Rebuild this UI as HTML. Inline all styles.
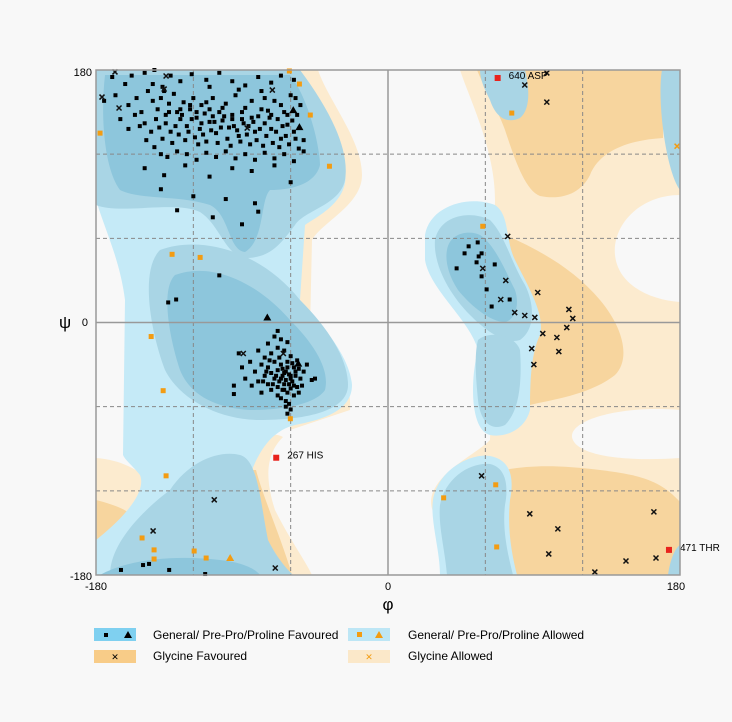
<!DOCTYPE html>
<html><head><meta charset="utf-8"><style>
body{margin:0;background:#f8f8f8;font-family:"Liberation Sans",sans-serif}
svg{display:block}
text{font-family:"Liberation Sans",sans-serif}
</style></head><body>
<svg id="chart" width="732" height="722" viewBox="0 0 732 722">
<rect width="732" height="722" fill="#f8f8f8"/>
<clipPath id="pc"><rect x="96" y="70" width="584" height="505"/></clipPath>
<g clip-path="url(#pc)">
<!-- glycine allowed -->
<g fill="#fcebcf">
<path d="M460,70 L680,70 L680,195 C640,195 612,225 615,255 C618,285 650,300 680,302 L680,575 L472,575 C460,545 425,520 432,495 C440,470 475,455 490,440 L495,200 C495,150 470,100 460,70 Z"/>
<path d="M285,70 L318,70 C328,100 362,140 362,175 C362,205 322,222 312,240 L310,330 C335,345 352,380 350,410 L290,430 Z"/>
<path d="M96,458 C125,460 150,475 152,490 L152,575 L96,575 Z"/>
<path d="M240,445 C260,435 275,432 283,437 C270,450 262,470 275,510 C290,540 305,560 312,575 L240,575 Z"/>
</g>
<path d="M680,410 C620,405 570,420 572,437 C575,455 620,462 680,458 Z" fill="#f8f8f8"/>
<!-- glycine favoured -->
<g fill="#f7d59e">
<path d="M477,70 L663,70 L663,138 C630,140 600,150 590,175 C580,195 560,200 540,196 C525,190 515,160 505,130 C498,110 485,90 477,70 Z"/>
<path d="M505,235 C540,250 575,270 600,300 C625,330 630,360 615,375 C590,395 550,400 530,405 L510,300 Z"/>
<path d="M505,470 C530,465 560,465 600,470 C640,475 660,480 680,502 L680,575 L515,575 C505,540 500,500 505,470 Z"/>
<path d="M96,500 C115,505 130,510 135,520 C130,535 110,545 96,555 Z"/>
<path d="M246,470 C243,500 250,540 262,575 L292,575 C282,540 264,500 256,470 Z"/>
</g>
<!-- general allowed -->
<g fill="#c5eaf7">
<path d="M96,70 L292,70 C300,100 335,135 345,170 C350,200 320,215 305,225 L300,300 C318,320 350,355 352,385 C352,412 320,420 295,425 C275,430 262,445 252,470 C247,500 252,545 258,575 L96,575 L96,540 C115,525 148,495 140,475 C132,465 125,460 123,455 L125,300 C120,260 105,230 96,200 Z"/>
<path d="M425,235 C430,205 470,195 495,205 C510,215 505,240 515,260 C530,290 545,315 540,335 C530,355 530,390 530,410 C525,430 505,438 490,435 C470,430 470,380 478,350 C470,320 430,290 425,260 Z"/>
<path d="M433,500 C438,470 470,453 490,456 C512,460 514,480 510,500 C507,530 512,555 517,575 L440,575 C440,550 430,520 433,500 Z"/>
</g>
<!-- general favoured -->
<g fill="#a9d5e5">
<path d="M96,70 L300,70 C330,110 350,150 345,180 C340,205 305,210 295,225 C280,245 270,258 245,258 C225,255 220,225 200,212 C175,200 120,215 96,205 Z"/>
<path d="M160,250 C200,235 260,250 300,300 C330,330 348,360 348,385 C348,413 300,420 260,420 C220,420 180,400 165,370 C150,330 140,270 160,250 Z"/>
<path d="M110,575 C110,540 150,505 170,490 C190,460 220,450 240,455 C258,460 260,500 268,540 C278,560 288,570 293,575 Z"/>
<path d="M435,240 C440,215 470,210 490,220 C505,235 510,260 525,285 C535,305 535,330 520,340 C505,345 485,330 470,315 C450,295 433,265 435,240 Z"/>
<path d="M478,340 C490,330 515,335 520,350 C522,380 520,410 505,425 C490,432 480,420 478,400 C476,380 474,355 478,340 Z"/>
<path d="M440,505 C445,478 470,462 490,464 C508,468 508,490 505,505 C502,530 508,555 513,575 L447,575 C445,550 438,525 440,505 Z"/>
<path d="M480,70 L525,70 C530,90 530,110 520,118 C505,125 495,115 490,100 C485,90 480,80 480,70 Z"/>
<path d="M662,70 L680,70 L680,190 C672,180 665,150 662,120 C660,100 660,80 662,70 Z"/>
<path d="M668,575 C670,560 675,548 680,545 L680,575 Z"/>
</g>
<g fill="#8dc6dc">
<path d="M105,75 L290,75 C310,100 320,150 320,165 C315,185 290,190 270,190 C260,200 265,240 245,252 C228,250 230,215 210,205 C180,195 140,200 120,190 C105,170 100,120 105,75 Z"/>
<path d="M175,275 C210,262 255,280 290,320 C315,345 330,370 325,390 C315,405 280,410 250,410 C215,408 190,395 180,370 C170,340 160,290 175,275 Z"/>
<path d="M100,575 C130,558 180,555 220,560 C240,562 255,568 260,575 Z"/>
<path d="M447,250 C450,232 470,230 480,235 C495,245 505,270 515,290 C520,305 515,320 505,322 C490,322 470,305 458,290 C448,275 445,260 447,250 Z"/>
</g>
</g>
<g id="grid"></g>
<g id="marks"></g>
<rect x="96" y="70" width="584" height="505" fill="none" stroke="#999" stroke-width="1.5"/>
<g font-size="11" fill="#000">
<text x="92" y="76" text-anchor="end">180</text>
<text x="88" y="326" text-anchor="end">0</text>
<text x="92" y="580" text-anchor="end">-180</text>
<text x="96" y="590" text-anchor="middle">-180</text>
<text x="388" y="590" text-anchor="middle">0</text>
<text x="676" y="590" text-anchor="middle">180</text>
</g>
<text x="65" y="328" font-size="17" text-anchor="middle" font-family="DejaVu Serif,serif">ψ</text>
<text x="388" y="610" font-size="17" text-anchor="middle" font-family="DejaVu Serif,serif">φ</text>
<g font-size="12">
<g>
<rect x="94" y="628" width="42" height="13" fill="#7fd0f0"/><rect x="104" y="633" width="4" height="4" fill="#000"/><path d="M124,638 L128,631 L132,638 Z" fill="#000"/>
<text x="153" y="639">General/ Pre-Pro/Proline Favoured</text></g>
<g>
<rect x="94" y="650" width="42" height="13" fill="#f8cc88"/><text x="115" y="660" font-size="9" text-anchor="middle">✕</text>
<text x="153" y="660">Glycine  Favoured</text></g>
<g>
<rect x="348" y="628" width="42" height="13" fill="#bde6f5"/><rect x="357" y="632" width="5" height="5" fill="#f39c12"/><path d="M375,638 L379,631 L383,638 Z" fill="#f39c12"/>
<text x="408" y="639">General/ Pre-Pro/Proline Allowed</text></g>
<g>
<rect x="348" y="650" width="42" height="13" fill="#fbe8c9"/><text x="369" y="660" font-size="9" fill="#f39c12" text-anchor="middle">✕</text>
<text x="408" y="660">Glycine Allowed</text></g>
</g>
</svg>
<script>
const gridPhi=[-120,-60,0,60,120];
const gridPsi=[120,60,0,-60,-120];
const betaPts=[-170,175,-162,170,-158,176,-150,178,-144,180,-139,168,-134,176,-128,172,-121,177,-112,173,-104,178,-96,172,-88,169,-80,175,-72,171,-66,176,-58,173,
-175,158,-168,162,-160,155,-155,160,-152,150,-148,165,-145,158,-142,152,-140,160,-137,148,-135,156,-132,163,-130,150,-128,145,-126,157,-124,140,-122,152,-120,160,-118,146,-116,138,-115,155,-113,149,-110,143,-108,160,-106,135,-104,150,-102,144,-100,156,-98,139,-96,148,-94,162,-92,133,-90,145,-88,153,-86,140,-84,158,-82,136,-80,147,-78,165,-76,142,-74,151,-72,138,-70,158,-68,145,-66,131,-64,150,-62,141,-60,162,-58,136,-56,148,-54,155,-52,130,
-150,142,-146,136,-143,145,-141,139,-139,131,-137,142,-134,136,-133,128,-131,140,-129,134,-127,148,-125,130,-123,136,-121,145,-119,132,-117,127,-115,142,-114,134,-112,129,-110,152,-109,137,-107,143,-105,128,-103,139,-101,147,-99,131,-97,126,-95,140,-93,137,-91,129,-89,142,-87,134,-85,127,-83,143,-81,130,-79,138,-77,126,-75,133,-73,146,-71,128,-69,136,-67,125,-65,140,-63,133,-61,127,-59,144,-57,131,-55,124,
-165,145,-160,138,-156,148,-153,140,-149,130,-144,125,-140,120,-136,118,-130,122,-124,120,-118,116,-112,121,-106,118,-100,122,-94,117,-88,120,-82,116,-76,121,-70,117,-64,120,-58,115,-52,122,
-150,110,-138,105,-125,112,-110,104,-96,110,-84,108,-70,112,-60,100,-140,95,-120,90,-100,88,-82,85,-130,80,-108,75,-90,70,-80,79,
-135,150,-128,152,-122,155,-118,150,-112,157,-108,147,-102,153,-96,145,-90,150,-84,146,-78,152,-72,148,-66,155,-62,148,-57,160,-145,170,-138,165,-110,168,-92,166,-76,160];
const alphaPts=[-80,-20,-76,-25,-72,-22,-68,-18,-64,-20,-60,-24,-78,-30,-74,-32,-70,-28,-66,-30,-62,-28,-58,-32,-56,-27,-82,-35,-76,-38,-72,-36,-68,-34,-64,-36,-60,-38,-57,-35,-54,-40,-80,-42,-74,-44,-70,-40,-67,-42,-63,-41,-61,-44,-59,-42,-56,-46,-72,-48,-68,-46,-65,-48,-62,-50,-60,-47,-58,-52,-66,-54,-63,-56,-61,-58,-60,-62,-62,-65,-85,-28,-88,-40,-84,-45,-78,-50,-90,-32,-70,-10,-66,-12,-62,-14,-74,-15,-55,-33,-53,-45,-57,-38,-65,-38,-69,-38,-71,-44,-64,-44,-66,-40,-62,-32,-67,-25,-59,-29,-73,-27,-75,-35,-77,-42,-55,-50,-52,-35,-50,-30,-45,-40,-95,-45,-92,-22,-60,-40,-63,-35,-65,-33,-61,-37,-58,-45,-64,-48,-68,-52,-63,-60,-68,-6,-95,-51,-47,-41];
const otherPts=[49.7,54.3,55.3,57.1,47.2,49.3,57.7,49.3,55.9,47.1,54.6,42.9,65.8,41.4,42.3,38.6,57.7,32.9,60.8,23.6,75,16.4,63.9,11.4,
-164.6,-176.4,-151,-172.9,-147.3,-172.1,-134.9,-176.4,-112.7,-179.3,-135.5,14.3,-130.6,16.4,-104,33.6];
const glyPts=[-168.3,178.6,-176.3,160.7,-165.8,152.9,-136.8,175.7,-138,166.4,-71.3,165.7,-86.8,138.6,84.3,169.3,97.9,157.1,97.9,177.9,73.8,61.4,58.4,38.6,72.6,30,92.3,21.4,69.5,16.4,78.1,7.1,84.3,5,90.5,3.6,111.5,9.3,113.9,2.9,110.2,-3.6,95.4,-7.9,104.1,-10.7,88.6,-18.6,105.3,-20.7,89.9,-30,57.7,-109.3,87.4,-136.4,104.7,-147.1,163.9,-135,99.1,-165,146.7,-170,165.2,-167.9,127.5,-177.9,-89.2,-22.1,-64.5,-22.1,-107.1,-126.4,-144.8,-148.6,-69.5,-175];
const allowedPts=[-60.8,179.3,-54.6,170,-47.9,147.9,-177.5,135,-36.1,111.4,-133.1,48.6,-115.8,46.4,-146,-10,-138.6,-48.6,-60.2,-68.6,-136.8,-109.3,-151.6,-153.6,-144.2,-162.1,-144.2,-168.6,-119.5,-162.9,-112.1,-167.9,76.3,149.3,58.4,68.6,66.4,-115.7,34.3,-125,67,-160];
const allowedTri=[-97.3,-167.9];
const glyAllowed=[178.2,125.7];
const prolineTri=[-74.4,3.6,-55.3,-29.3,-58.4,151.4,-54.6,139.3];
const outlierPhi=[67.6,-68.9,173.2];
const outlierPsi=[174.3,-96.4,-162.1];
const outlierLabels=["640  ASP","267   HIS","471  THR"];

const X0=96,X1=680,Y0=70,Y1=575;
function xs(p){return X0+(p+180)/360*(X1-X0);}
function ys(p){return Y0+(180-p)/360*(Y1-Y0);}
const NS="http://www.w3.org/2000/svg";
const grid=document.getElementById('grid'),marks=document.getElementById('marks');
function mk(tag,attrs,parent){const e=document.createElementNS(NS,tag);for(const k in attrs)e.setAttribute(k,attrs[k]);parent.appendChild(e);return e;}
gridPhi.forEach(v=>{const l=mk('line',{x1:xs(v),x2:xs(v),y1:Y0,y2:Y1,stroke:v===0?'#999':'#888','stroke-width':v===0?1.5:1,'stroke-dasharray':v===0?'':'4,3'},grid);

});
gridPsi.forEach(v=>{const l=mk('line',{x1:X0,x2:X1,y1:ys(v),y2:ys(v),stroke:v===0?'#999':'#888','stroke-width':v===0?1.5:1,'stroke-dasharray':v===0?'':'4,3'},grid);

});
function squares(arr,color,size,name){for(let i=0;i<arr.length;i+=2){const r=mk('rect',{x:xs(arr[i])-size/2,y:ys(arr[i+1])-size/2,width:size,height:size,fill:color},marks);

}}
function crosses(arr,color,name){for(let i=0;i<arr.length;i+=2){const x=xs(arr[i]),y=ys(arr[i+1]);const p=mk('path',{d:`M${x-2.5},${y-2.5}L${x+2.5},${y+2.5}M${x+2.5},${y-2.5}L${x-2.5},${y+2.5}`,stroke:color,'stroke-width':1.5},marks);

}}
function tris(arr,color,name){for(let i=0;i<arr.length;i+=2){const x=xs(arr[i]),y=ys(arr[i+1]);const p=mk('path',{d:`M${x-4},${y+3}L${x},${y-4}L${x+4},${y+3}Z`,fill:color},marks);

}}
squares(betaPts,'#000',4,'general-favoured-point');
squares(alphaPts,'#000',4,'general-favoured-point');
squares(otherPts,'#000',4,'general-favoured-point');
crosses(glyPts,'#111','glycine-point');
crosses(glyAllowed,'#f39c12','glycine-allowed-point');
squares(allowedPts,'#f39c12',5,'general-allowed-point');
tris(allowedTri,'#f39c12','proline-allowed-point');
tris(prolineTri,'#000','proline-favoured-point');
outlierPhi.forEach((p,i)=>{const r=mk('rect',{x:xs(p)-3,y:ys(outlierPsi[i])-3,width:6,height:6,fill:'#e8231d'},marks);


const t=mk('text',{x:xs(p)+11,y:ys(outlierPsi[i])+1,'font-size':10,fill:'#000'},marks);t.textContent=outlierLabels[i];

});
</script>
</body></html>
